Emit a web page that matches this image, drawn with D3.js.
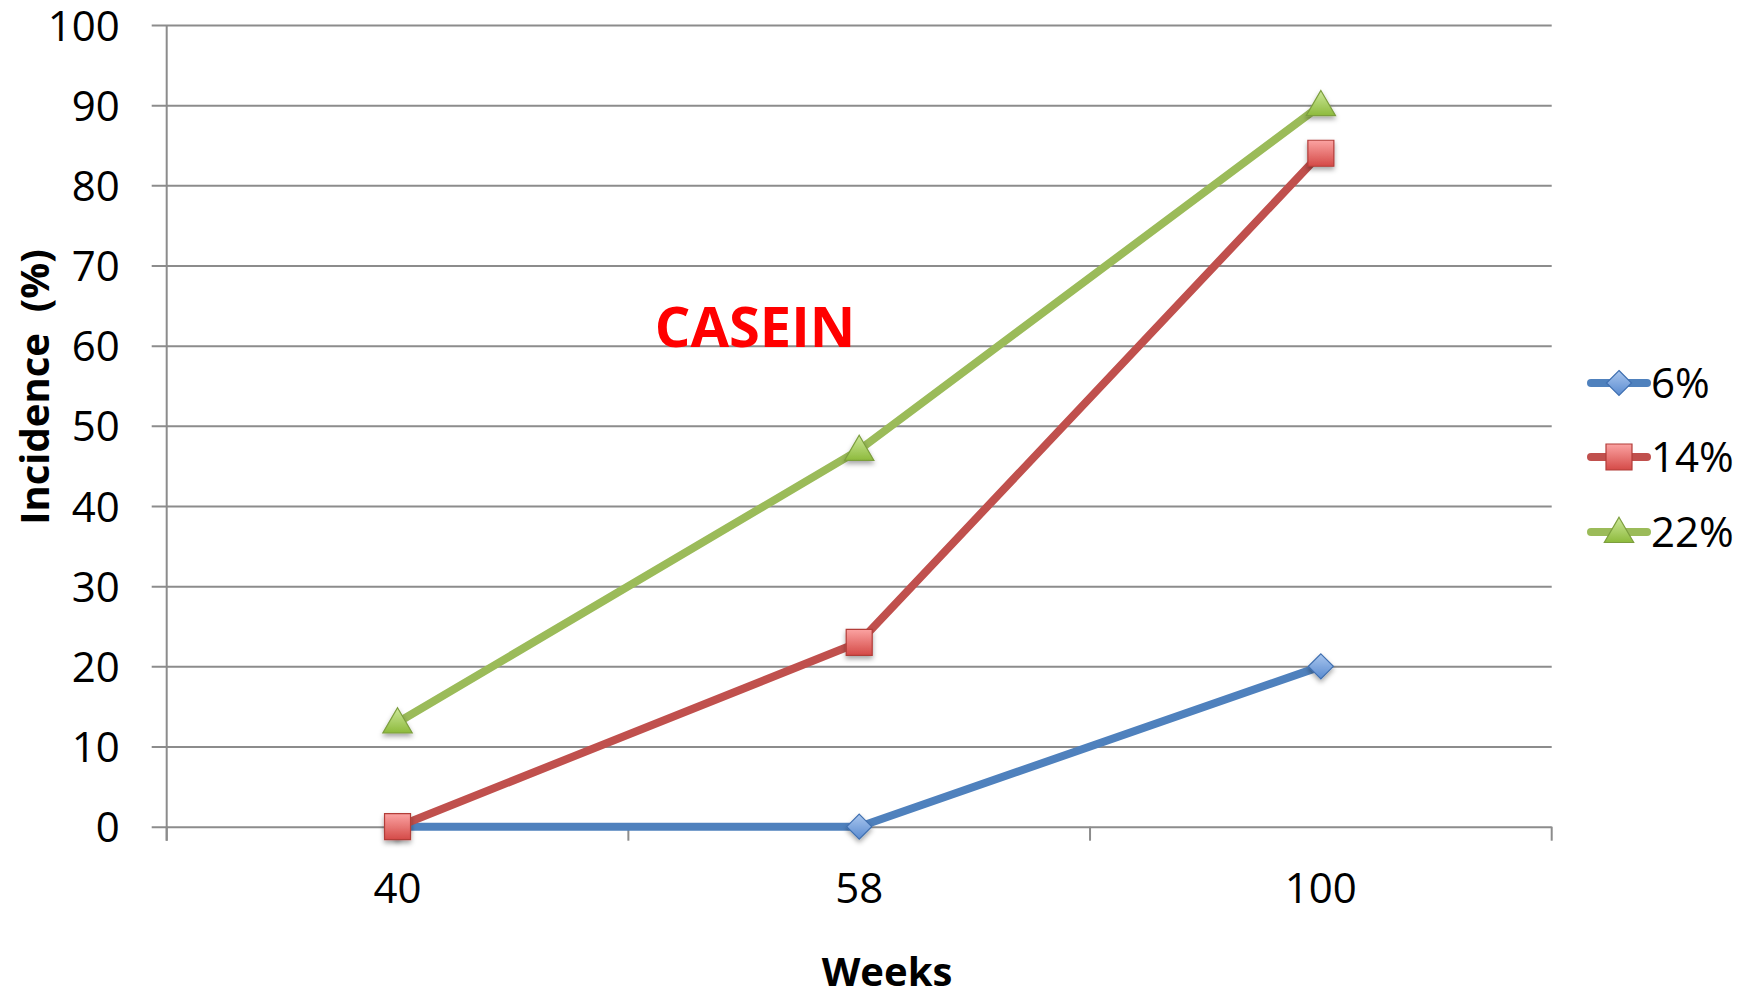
<!DOCTYPE html>
<html>
<head>
<meta charset="utf-8">
<script src="https://cdn.jsdelivr.net/npm/d3@7"></script>
<style>
  html, body { margin: 0; padding: 0; background: #fff; }
  svg { display: block; }
  text { font-family: "Open Sans", "Noto Sans", sans-serif; }
</style>
</head>
<body>
<svg id="chart" width="1752" height="994"></svg>
<script>
// Tumour incidence by week for three casein levels
const weeks = ["40", "58", "100"];
const seriesNames = ["6%", "14%", "22%"];
const casein6 = [0, 0, 20];
const casein14 = [0, 23, 84];
const casein22 = [13, 47, 90];
const yTicks = [0, 10, 20, 30, 40, 50, 60, 70, 80, 90, 100];

const series = [
  { name: seriesNames[0], values: casein6, color: "#4F81BD", marker: "diamond", light: "#A9C6EE", dark: "#5A8BD0", edge: "#3F6FB0" },
  { name: seriesNames[1], values: casein14, color: "#C0504D", marker: "square", light: "#FBA3A2", dark: "#D44A47", edge: "#B23C39" },
  { name: seriesNames[2], values: casein22, color: "#9BBB59", marker: "triangle", light: "#CDE89A", dark: "#8DBA3C", edge: "#7C9E3E" }
];

const svg = d3.select("#chart");
const W = 1752, H = 994;
const margin = { left: 166.7, right: W - 1551.7, top: 25, bottom: H - 826.7 };

const x = d3.scaleBand().domain(weeks).range([margin.left, W - margin.right]);
const y = d3.scaleLinear().domain([0, 100]).range([H - margin.bottom, margin.top]);

const defs = svg.append("defs");
series.forEach((s, i) => {
  const g = defs.append("linearGradient").attr("id", "grad" + i)
    .attr("x1", 0).attr("y1", 0).attr("x2", 0).attr("y2", 1);
  g.append("stop").attr("offset", "0%").attr("stop-color", s.light);
  g.append("stop").attr("offset", "100%").attr("stop-color", s.dark);
});
const shadow = defs.append("filter").attr("id", "shadow")
  .attr("x", "-50%").attr("y", "-50%").attr("width", "200%").attr("height", "200%");
shadow.append("feDropShadow").attr("dx", 0).attr("dy", 3).attr("stdDeviation", 2.5)
  .attr("flood-color", "#000").attr("flood-opacity", 0.35);

const gridColor = "#8C8C8C";

// Horizontal gridlines with left tick stubs
const yAxis = d3.axisLeft(y).tickValues(yTicks).tickSize(15).tickPadding(32)
  .tickFormat(d3.format("d"));
const yG = svg.append("g").attr("transform", `translate(${margin.left},0)`).call(yAxis);
yG.select(".domain").remove();
yG.selectAll(".tick line").attr("stroke", gridColor).attr("stroke-width", 2)
  .attr("x2", -15).attr("x1", W - margin.right - margin.left);
yG.selectAll(".tick text").attr("fill", "#000").attr("font-size", 42)
  .attr("font-family", "\"Open Sans\", sans-serif").attr("dy", "0.36em");

// Vertical axis line
svg.append("line")
  .attr("x1", margin.left).attr("x2", margin.left)
  .attr("y1", y(100)).attr("y2", y(0) + 14)
  .attr("stroke", gridColor).attr("stroke-width", 2);

// Category axis with ticks between categories
const boundaries = weeks.map(w => x(w)).concat([x(weeks[weeks.length - 1]) + x.bandwidth()]);
svg.selectAll(".xtick").data(boundaries).enter().append("line")
  .attr("x1", d => d).attr("x2", d => d)
  .attr("y1", y(0)).attr("y2", y(0) + 14)
  .attr("stroke", gridColor).attr("stroke-width", 2);
svg.selectAll(".xlabel").data(weeks).enter().append("text")
  .attr("x", d => x(d) + x.bandwidth() / 2)
  .attr("y", y(0) + 76)
  .attr("text-anchor", "middle").attr("font-size", 42).attr("fill", "#000")
  .text(d => d);

// Series lines
const line = d3.line().x((d, i) => x(weeks[i]) + x.bandwidth() / 2).y(d => y(d));
series.forEach(s => {
  svg.append("path").datum(s.values)
    .attr("d", line).attr("fill", "none")
    .attr("stroke", s.color).attr("stroke-width", 8).attr("stroke-linejoin", "round");
});

// Marker shapes
function markerPath(type, size) {
  const h = size / 2;
  if (type === "diamond") return `M0,${-h}L${h},0L0,${h}L${-h},0Z`;
  if (type === "square") return `M${-h},${-h}H${h}V${h}H${-h}Z`;
  return `M0,${-h * 1.05}L${h * 1.05},${h * 0.75}L${-h * 1.05},${h * 0.75}Z`;
}
const markerSize = { diamond: 25, square: 26, triangle: 28 };

series.forEach((s, i) => {
  svg.selectAll(".m" + i).data(s.values).enter().append("path")
    .attr("transform", (d, j) => `translate(${x(weeks[j]) + x.bandwidth() / 2},${y(d)})`)
    .attr("d", markerPath(s.marker, markerSize[s.marker]))
    .attr("fill", `url(#grad${i})`)
    .attr("stroke", s.edge).attr("stroke-width", 1.2)
    .attr("filter", "url(#shadow)");
});

// Legend
const legendRows = [383, 457, 532];
series.forEach((s, i) => {
  const g = svg.append("g").attr("transform", `translate(1619,${legendRows[i]})`);
  g.append("line").attr("x1", -28).attr("x2", 28)
    .attr("stroke", s.color).attr("stroke-width", 8).attr("stroke-linecap", "round");
  g.append("path").attr("d", markerPath(s.marker, markerSize[s.marker]))
    .attr("fill", `url(#grad${i})`).attr("stroke", s.edge).attr("stroke-width", 1.2);
  g.append("text").attr("x", 32).attr("y", 0).attr("dy", "0.36em")
    .attr("font-size", 42).attr("fill", "#000").text(s.name);
});

// Annotation
svg.append("text").attr("x", 755).attr("y", 347)
  .attr("text-anchor", "middle").attr("font-size", 56).attr("font-weight", "bold")
  .attr("fill", "#FF0000").text("CASEIN");

// Axis titles
svg.append("text").attr("x", 887).attr("y", 986)
  .attr("text-anchor", "middle").attr("font-size", 40).attr("font-weight", "bold")
  .attr("fill", "#000").text("Weeks");
svg.append("text")
  .attr("transform", "translate(49,387) rotate(-90)")
  .attr("text-anchor", "middle").attr("font-size", 40).attr("font-weight", "bold")
  .attr("fill", "#000").style("white-space", "pre")
  .text("Incidence  (%)");
</script>
</body>
</html>
